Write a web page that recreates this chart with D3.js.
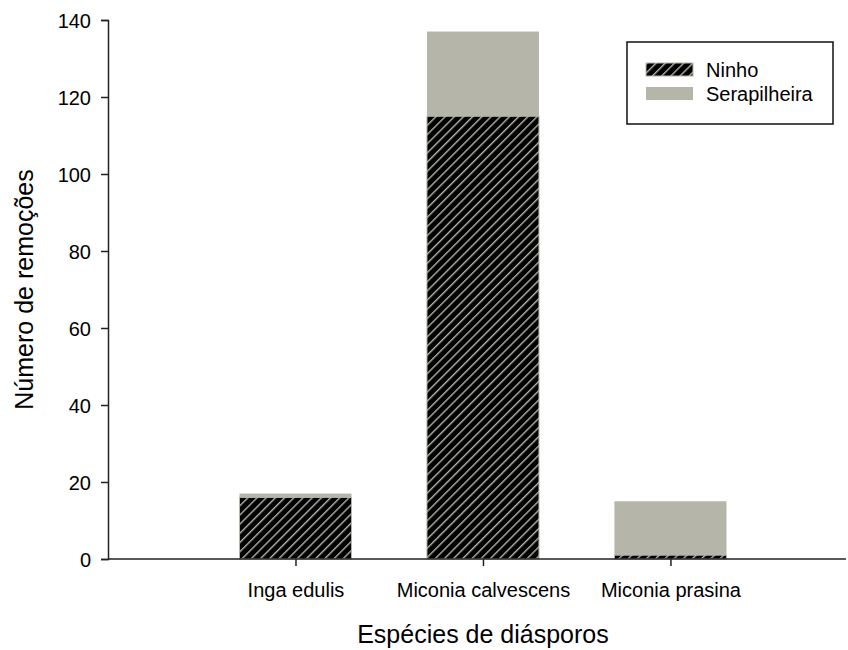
<!DOCTYPE html>
<html>
<head>
<meta charset="utf-8">
<script src="https://cdn.jsdelivr.net/npm/d3@7"></script>
<style>
  body { margin: 0; background: #fff; }
  svg { font-family: "Liberation Sans", Arial, sans-serif; }
</style>
</head>
<body>
<svg id="chart" width="848" height="650"></svg>
<script>
// data
const species = ["Inga edulis", "Miconia calvescens", "Miconia prasina"];
const ninho = [16, 115, 1];
const serapilheira = [1, 22, 14];
const seriesNames = ["Ninho", "Serapilheira"];
const yTicks = [0, 20, 40, 60, 80, 100, 120, 140];

const greyFill = "#b5b5aa";
const fontFamily = "Liberation Sans, Arial, sans-serif";

const svg = d3.select("#chart");

const margin = { top: 20, left: 108, bottom: 559, right: 846 };

// category positions 1..3, with an empty slot at 0 (left axis)
const x = d3.scaleLinear()
	.domain([0, 3.867])
	.range([margin.left, margin.left + 725]);

const y = d3.scaleLinear()
	.domain([0, 140])
	.range([margin.bottom, margin.top]);

const barWidth = 112;

// hatch pattern for Ninho
const defs = svg.append("defs");
const pat = defs.append("pattern")
	.attr("id", "hatch")
	.attr("patternUnits", "userSpaceOnUse")
	.attr("width", 6.5)
	.attr("height", 6.5)
	.attr("patternTransform", "rotate(45)");
pat.append("rect")
	.attr("width", 6.5)
	.attr("height", 6.5)
	.attr("fill", "#000");
pat.append("rect")
	.attr("x", 0)
	.attr("width", 1.4)
	.attr("height", 6.5)
	.attr("fill", greyFill);

const stacked = species.map((s, i) => ({
	name: s,
	pos: i + 1,
	ninho: ninho[i],
	ser: serapilheira[i]
}));

const bars = svg.append("g");

// Serapilheira on top
bars.selectAll(".ser")
	.data(stacked)
	.enter()
	.append("rect")
	.attr("x", (d) => x(d.pos) - barWidth / 2)
	.attr("width", barWidth)
	.attr("y", (d) => y(d.ninho + d.ser))
	.attr("height", (d) => y(d.ninho) - y(d.ninho + d.ser))
	.attr("fill", greyFill);

bars.selectAll(".ninho")
	.data(stacked)
	.enter()
	.append("rect")
	.attr("x", (d) => x(d.pos) - barWidth / 2)
	.attr("width", barWidth)
	.attr("y", (d) => y(d.ninho))
	.attr("height", (d) => y(0) - y(d.ninho))
	.attr("fill", "url(#hatch)")
	.attr("stroke", greyFill)
	.attr("stroke-width", 1);

// y axis
const yAxis = svg.append("g")
	.attr("transform", `translate(${margin.left},0)`)
	.call(d3.axisLeft(y).tickValues(yTicks).tickSize(7).tickPadding(10));
yAxis.selectAll("text")
	.attr("font-size", 20)
	.attr("font-family", fontFamily)
	.attr("fill", "#000")
	.attr("dy", "0.35em");

// x axis
const xAxis = svg.append("g")
	.attr("transform", `translate(0,${margin.bottom})`)
	.call(d3.axisBottom(x)
		.tickValues([1, 2, 3])
		.tickFormat((d) => species[d - 1])
		.tickSize(7)
		.tickPadding(17));
xAxis.selectAll("text")
	.attr("font-size", 20)
	.attr("font-family", fontFamily)
	.attr("fill", "#000");
xAxis.select(".domain")
	.attr("d", `M${margin.left},0H${margin.right}`);

svg.selectAll(".domain, .tick line")
	.attr("stroke", "#222")
	.attr("stroke-width", 1.5);

// axis titles
svg.append("text")
	.attr("x", x(2))
	.attr("y", 643)
	.attr("text-anchor", "middle")
	.attr("font-size", 25)
	.text("Espécies de diásporos");

svg.append("text")
	.attr("transform", `translate(33, ${(y(0) + y(140)) / 2}) rotate(-90)`)
	.attr("text-anchor", "middle")
	.attr("font-size", 25)
	.text("Número de remoções");

// legend
const legend = svg.append("g")
	.attr("transform", "translate(627, 42)");
legend.append("rect")
	.attr("width", 206)
	.attr("height", 82)
	.attr("fill", "#fff")
	.attr("stroke", "#111")
	.attr("stroke-width", 1.5);

const legendFills = ["url(#hatch)", greyFill];
const legendItems = legend.selectAll(".item")
	.data(seriesNames)
	.enter()
	.append("g")
	.attr("transform", (d, i) => `translate(19, ${21 + i * 24})`);
legendItems.append("rect")
	.attr("width", 47)
	.attr("height", 13)
	.attr("fill", (d, i) => legendFills[i])
	.attr("stroke", greyFill)
	.attr("stroke-width", (d, i) => i === 0 ? 1 : 0);
legendItems.append("text")
	.attr("x", 60)
	.attr("y", 14)
	.attr("font-size", 20)
	.text((d) => d);
</script>
</body>
</html>
